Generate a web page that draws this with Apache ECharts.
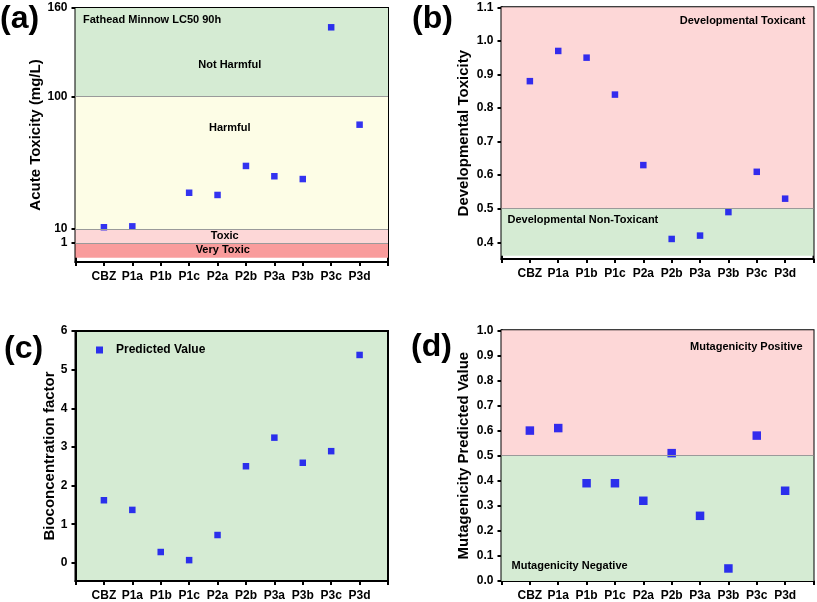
<!DOCTYPE html>
<html><head><meta charset="utf-8">
<script src="https://cdn.jsdelivr.net/npm/echarts@6/dist/echarts.min.js"></script>
<style>html,body{margin:0;padding:0;background:#fff}#c{width:817px;height:602px}</style>
</head><body><div id="c"></div>
<script>
// ---- data ----
const categories = ['CBZ','P1a','P1b','P1c','P2a','P2b','P3a','P3b','P3c','P3d'];
const acuteToxicity = [11.2, 11.8, null, 34.6, 33.1, 52.8, 45.8, 43.9, 146.9, 80.8];
const developmentalToxicity = [0.88, 0.97, 0.95, 0.84, 0.63, 0.41, 0.42, 0.49, 0.61, 0.53];
const bioconcentration = [1.62, 1.37, 0.28, 0.07, 0.72, 2.50, 3.24, 2.59, 2.89, 5.38];
const mutagenicity = [0.60, 0.61, 0.39, 0.39, 0.32, 0.51, 0.26, 0.05, 0.58, 0.36];
const acuteTicks = [1, 10, 100, 160];
const devTicks = [0.4, 0.5, 0.6, 0.7, 0.8, 0.9, 1.0, 1.1];
const bcfTicks = [0, 1, 2, 3, 4, 5, 6];
const mutTicks = [0, 0.1, 0.2, 0.3, 0.4, 0.5, 0.6, 0.7, 0.8, 0.9, 1.0];

// piecewise axis for panel (a): linear above 10, compressed below 10
function toA(v){ return v >= 10 ? v : 10 - (10 - v) * (9.5 / 9); }

const FONT = '"Liberation Sans", Arial, sans-serif';
const xCats = [''].concat(categories, ['']);
const GREEN = '#d5ebd3', PINK = '#fdd7d7', YELLOW = '#fdfde6', RED = '#f99c9c';
const BLUE = '#0000f2';

const grids = [
  {left: 75.5, top: 8, width: 312.5, height: 254},
  {left: 501.5, top: 7.3, width: 312, height: 251.8},
  {left: 75.5, top: 331, width: 312.5, height: 250},
  {left: 501.5, top: 330.3, width: 312, height: 251.4}
];

function xAxis(i){
  return {
    type: 'category', gridIndex: i, data: xCats, boundaryGap: false,
    axisLine: {onZero: false, lineStyle: {color: '#000', width: 2}},
    axisTick: {show: true, interval: 0, length: 4, lineStyle: {color: '#000', width: 2}},
    axisLabel: {interval: 0, margin: 9, color: '#000', fontFamily: FONT, fontWeight: 'bold', fontSize: 12},
    splitLine: {show: false}
  };
}
function yAxis(i, name, min, max, ticks, fmt, gap){
  return {
    type: 'value', gridIndex: i, min: min, max: max, name: name,
    nameLocation: 'middle', nameGap: gap, nameRotate: 90,
    nameTextStyle: {color: '#000', fontFamily: FONT, fontWeight: 'bold', fontSize: 15},
    axisLine: {show: true, onZero: false, lineStyle: {color: '#000', width: 2}},
    axisTick: {show: true, length: 4, customValues: ticks, lineStyle: {color: '#000', width: 2}},
    axisLabel: {customValues: ticks, margin: 8, color: '#000', fontFamily: FONT, fontWeight: 'bold', fontSize: 12, formatter: fmt},
    splitLine: {show: false}
  };
}
const bandLabel = (extra) => Object.assign({show: true, color: '#000', fontFamily: FONT, fontWeight: 'bold', fontSize: 11}, extra);
const boundary = (vals) => ({silent: true, symbol: 'none', label: {show: false},
  lineStyle: {color: '#9a9a9a', width: 1, type: 'solid'}, data: vals.map(v => ({yAxis: v}))});

function pairs(vals, tf){ return categories.map((c, i) => [c, vals[i] == null ? null : (tf ? tf(vals[i]) : vals[i])]); }

const panelTitle = (t, l, tp) => ({text: t, left: l, top: tp, padding: 0,
  textStyle: {fontFamily: FONT, fontWeight: 'bold', fontSize: 32, color: '#000'}});

const option = {
  animation: false,
  backgroundColor: '#fff',
  grid: grids.map((g, i) => Object.assign({show: true, borderColor: '#000', borderWidth: 2,
    backgroundColor: i === 2 ? GREEN : '#ffffff'}, g)),
  title: [
    panelTitle('(a)', 0, 3),
    panelTitle('(b)', 412, 3),
    panelTitle('(c)', 4, 333),
    panelTitle('(d)', 411, 331),
    {text: 'Fathead Minnow LC50 90h', left: 83, top: 14, padding: 0, textStyle: {fontFamily: FONT, fontWeight: 'bold', fontSize: 11, color: '#000'}}
  ],
  legend: {
    show: true, data: [{name: 'Predicted Value', icon: 'rect'}], left: 91, top: 339,
    itemWidth: 7, itemHeight: 7, selectedMode: false,
    textStyle: {fontFamily: FONT, fontWeight: 'bold', fontSize: 12, color: '#000', padding: [0, 0, 0, 8]}
  },
  xAxis: [xAxis(0), xAxis(1), xAxis(2), xAxis(3)],
  yAxis: [
    yAxis(0, 'Acute Toxicity (mg/L)', -12.4, 160, acuteTicks.map(toA),
      v => { const t = acuteTicks.find(k => Math.abs(toA(k) - v) < 1e-6); return t == null ? '' : String(t); }, 30),
    yAxis(1, 'Developmental Toxicity', 0.35, 1.1, devTicks, v => v.toFixed(1), 30),
    yAxis(2, 'Bioconcentration factor', -0.47, 6, bcfTicks, v => String(v), 18),
    yAxis(3, 'Mutagenicity Predicted Value', 0, 1.0, mutTicks, v => v.toFixed(1), 30)
  ],
  series: [
    {
      name: 'Acute', type: 'scatter', xAxisIndex: 0, yAxisIndex: 0, symbol: 'rect', symbolSize: 6.5,
      itemStyle: {color: BLUE}, data: pairs(acuteToxicity, toA),
      markArea: {silent: true, data: [
        [{yAxis: 100, itemStyle: {color: GREEN}, label: bandLabel({position: 'inside', offset: [-2, 13]}), name: 'Not Harmful'}, {yAxis: 160}],
        [{yAxis: 10, itemStyle: {color: YELLOW}, label: bandLabel({position: 'insideTop', distance: 26, offset: [-2, 0]}), name: 'Harmful'}, {yAxis: 100}],
        [{yAxis: toA(1), itemStyle: {color: PINK}, label: bandLabel({position: 'inside', offset: [-7, 0]}), name: 'Toxic'}, {yAxis: 10}],
        [{yAxis: -9.5, itemStyle: {color: RED}, label: bandLabel({position: 'inside', offset: [-9, 0]}), name: 'Very Toxic'}, {yAxis: toA(1)}]
      ]},
      markLine: boundary([100, 10, toA(1)])
    },
    {
      name: 'Dev', type: 'scatter', xAxisIndex: 1, yAxisIndex: 1, symbol: 'rect', symbolSize: 6.5,
      itemStyle: {color: BLUE}, data: pairs(developmentalToxicity),
      markArea: {silent: true, data: [
        [{yAxis: 0.5, itemStyle: {color: PINK}, label: bandLabel({position: 'insideTopRight', distance: 8}), name: 'Developmental Toxicant'}, {yAxis: 1.1}],
        [{yAxis: 0.36, itemStyle: {color: GREEN}, label: bandLabel({position: 'insideTopLeft', distance: 6}), name: 'Developmental Non-Toxicant'}, {yAxis: 0.5}]
      ]},
      markLine: boundary([0.5])
    },
    {
      name: 'Predicted Value', type: 'scatter', xAxisIndex: 2, yAxisIndex: 2, symbol: 'rect', symbolSize: 6.5,
      itemStyle: {color: BLUE}, data: pairs(bioconcentration)
    },
    {
      name: 'Mut', type: 'scatter', xAxisIndex: 3, yAxisIndex: 3, symbol: 'rect', symbolSize: 8.5,
      itemStyle: {color: BLUE}, data: pairs(mutagenicity),
      markArea: {silent: true, data: [
        [{yAxis: 0.5, itemStyle: {color: PINK}, label: bandLabel({position: 'insideTopRight', distance: 11}), name: 'Mutagenicity Positive'}, {yAxis: 1.0}],
        [{yAxis: 0, itemStyle: {color: GREEN}, label: bandLabel({position: 'insideBottomLeft', distance: 10}), name: 'Mutagenicity Negative'}, {yAxis: 0.5}]
      ]},
      markLine: boundary([0.5])
    }
  ]
};
const chart = echarts.init(document.getElementById('c'), null, {renderer: 'canvas'});
chart.setOption(option);
</script></body></html>
